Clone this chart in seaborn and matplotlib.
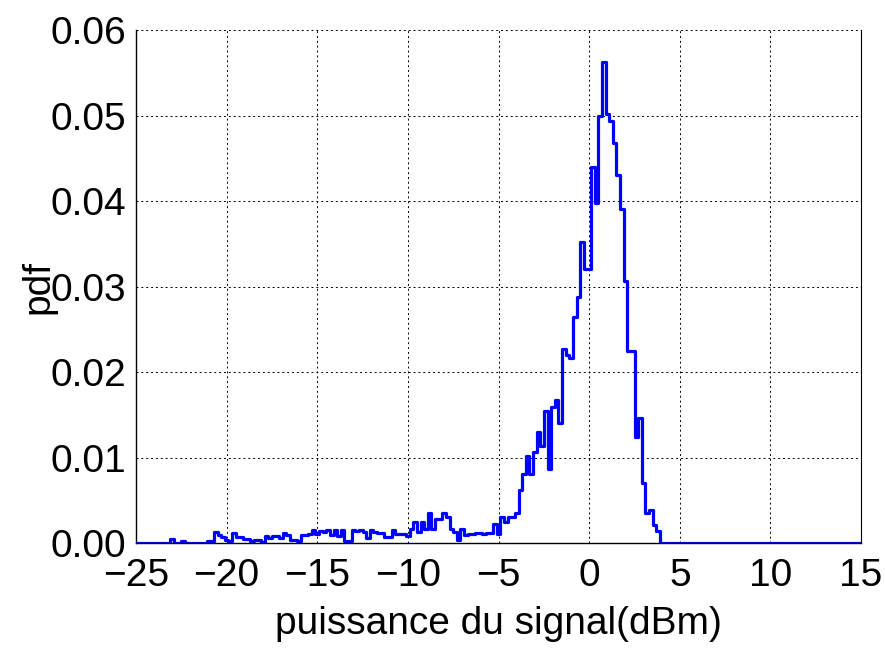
import numpy as np
import pandas as pd
import matplotlib
matplotlib.use("Agg")
import matplotlib.pyplot as plt
import seaborn as sns
from matplotlib.ticker import MultipleLocator, FormatStrFormatter

# histogram bins (0.2 dBm wide)
bin_step = 0.2
x_first, x_last = -25.0, 15.0
first_nonzero = -23.0   # centre of the first non-empty bin

# pdf values from -23.0 dBm up to 3.8 dBm, 10 bins per row
pdf_values = [
    0.0005, 0, 0, 0.0003, 0, 0, 0, 0, 0, 0,                                  # -23.0
    0.0002, 0.0002, 0.0013, 0.0010, 0.0007, 0.0004, 0.0003, 0.0012, 0.0007, 0.0007,  # -21.0
    0.0005, 0.0005, 0.0003, 0.0004, 0.0004, 0.0001, 0.0008, 0.0006, 0.0008, 0.0008,  # -19.0
    0.0006, 0.0012, 0.0010, 0.0004, 0.0004, 0.0003, 0.0009, 0.0010, 0.0011, 0.0015,  # -17.0
    0.0011, 0.0014, 0.0013, 0.0015, 0.0009, 0.0015, 0.0008, 0.0015, 0.0003, 0.0002,  # -15.0
    0.0015, 0.0014, 0.0015, 0.0013, 0.0006, 0.0015, 0.0013, 0.0012, 0.0012, 0.0007,  # -13.0
    0.0007, 0.0015, 0.0011, 0.0011, 0.0011, 0.0008, 0.0017, 0.0025, 0.0013, 0.0025,  # -11.0
    0.0017, 0.0035, 0.0017, 0.0028, 0.0028, 0.0035, 0.0031, 0.0017, 0.0013, 0.0004,  # -9.0
    0.0017, 0.0009, 0.0011, 0.0011, 0.0012, 0.0012, 0.0011, 0.0012, 0.0012, 0.0022,  # -7.0
    0.0011, 0.0031, 0.0025, 0.0030, 0.0030, 0.0035, 0.0062, 0.0081, 0.0102, 0.0081,  # -5.0
    0.0107, 0.0130, 0.0114, 0.0155, 0.0087, 0.0159, 0.0167, 0.0140, 0.0227, 0.0220,  # -3.0
    0.0216, 0.0264, 0.0288, 0.0352, 0.0321, 0.0321, 0.0440, 0.0398, 0.0499, 0.0563,  # -1.0
    0.0502, 0.0493, 0.0468, 0.0431, 0.0391, 0.0306, 0.0225, 0.0225, 0.0124, 0.0146,  # 1.0
    0.0070, 0.0035, 0.0039, 0.0021, 0.0014,                                  # 3.0
]

x_ticks = [-25, -20, -15, -10, -5, 0, 5, 10, 15]
y_ticks = [0.00, 0.01, 0.02, 0.03, 0.04, 0.05, 0.06]

# full bin grid, empty bins are zero
n_bins = int(round((x_last - x_first) / bin_step)) + 1
centres = np.round(x_first + bin_step * np.arange(n_bins), 1)
pdf = np.zeros(n_bins)
start = int(round((first_nonzero - x_first) / bin_step))
pdf[start:start + len(pdf_values)] = pdf_values
df = pd.DataFrame({"puissance": centres, "pdf": pdf})

sns.set_style("white")
plt.rcParams["font.family"] = ["Liberation Sans", "DejaVu Sans"]

fig = plt.figure(figsize=(8.85, 6.52), dpi=100)
ax = fig.add_axes([0.1537, 0.167, 0.973 - 0.1537, 0.954 - 0.167])

sns.lineplot(data=df, x="puissance", y="pdf", ax=ax, color="#0000ff",
             linewidth=2.3, drawstyle="steps-mid", errorbar=None)

ax.set_xlim(-25, 15)
ax.set_ylim(0, 0.06)
ax.set_xticks(x_ticks)
ax.set_yticks(y_ticks)
ax.xaxis.set_minor_locator(MultipleLocator(2.5))
ax.yaxis.set_minor_locator(MultipleLocator(0.002))
ax.yaxis.set_major_formatter(FormatStrFormatter("%.2f"))

ax.grid(True, which="major", color="black", linestyle=(0, (2, 3)), linewidth=0.7)
ax.tick_params(axis="both", which="major", direction="out", length=6, width=1,
               labelsize=28, color="black", labelcolor="black")
ax.tick_params(axis="both", which="minor", direction="out", length=3, width=0.8,
               color="black")
ax.tick_params(axis="x", which="major", pad=5)
ax.tick_params(axis="y", which="major", pad=1)

for side in ["left", "bottom"]:
    ax.spines[side].set_color("black")
    ax.spines[side].set_linewidth(1.0)
ax.spines["right"].set_color("black")
ax.spines["right"].set_linewidth(0.8)
ax.spines["top"].set_visible(False)

ax.set_xlabel("puissance du signal(dBm)", fontsize=28, labelpad=8, color="black")
ax.set_ylabel("pdf", fontsize=28, labelpad=-4, color="black")

fig.savefig("out.png", dpi=100)
